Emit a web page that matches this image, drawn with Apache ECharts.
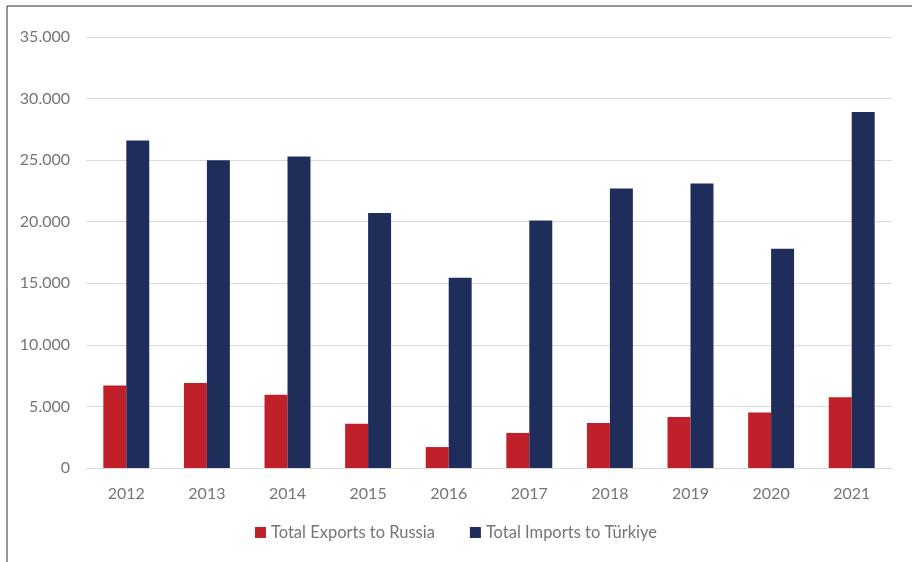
<!DOCTYPE html>
<html><head><meta charset="utf-8">
<script src="https://cdn.jsdelivr.net/npm/echarts@6/dist/echarts.min.js"></script>
<style>html,body{margin:0;padding:0;background:#fff}#c{width:912px;height:562px}</style>
</head><body><div id="c"></div>
<script>
const years = ['2012','2013','2014','2015','2016','2017','2018','2019','2020','2021'];
const exportsRussia = [6700, 6900, 5950, 3600, 1700, 2850, 3650, 4150, 4500, 5750];
const importsTurkiye = [26600, 25000, 25300, 20700, 15450, 20100, 22700, 23100, 17800, 28900];
const seriesNames = ['Total Exports to Russia', 'Total Imports to Türkiye'];

const chart = echarts.init(document.getElementById('c'), null, {renderer:'canvas'});
const fnt = 'Lato, "Open Sans", sans-serif';
chart.setOption({
  animation:false,
  textStyle:{fontFamily:fnt},
  graphic:[{type:'rect', shape:{x:7,y:6,width:1000,height:700}, style:{fill:'none',stroke:'#333',lineWidth:1}, silent:true}],
  grid:{left:86,right:20,top:37,bottom:94},
  legend:{bottom:16,left:'center',itemWidth:11,itemHeight:11,itemGap:35,icon:'rect',
    textStyle:{color:'#757575',fontSize:16.5,fontFamily:fnt,padding:[0,0,0,0]}},
  xAxis:{type:'category',data:years,
    axisLine:{lineStyle:{color:'#d9d9d9'}},axisTick:{show:false},
    axisLabel:{color:'#757575',fontSize:16,margin:18,fontFamily:fnt}},
  yAxis:{type:'value',min:0,max:35000,interval:5000,
    axisLine:{show:false},axisTick:{show:false},
    splitLine:{lineStyle:{color:'#d9d9d9'}},
    axisLabel:{color:'#757575',fontSize:16,margin:16,fontFamily:fnt,
      formatter:v=>v===0?'0':(v/1000).toFixed(3)}},
  series:[
    {name:seriesNames[0],type:'bar',data:exportsRussia,barWidth:'28.5%',barGap:'0%',itemStyle:{color:'#C0202A'}},
    {name:seriesNames[1],type:'bar',data:importsTurkiye,barWidth:'28.5%',itemStyle:{color:'#1F2D5A'}}
  ]
});
</script></body></html>
